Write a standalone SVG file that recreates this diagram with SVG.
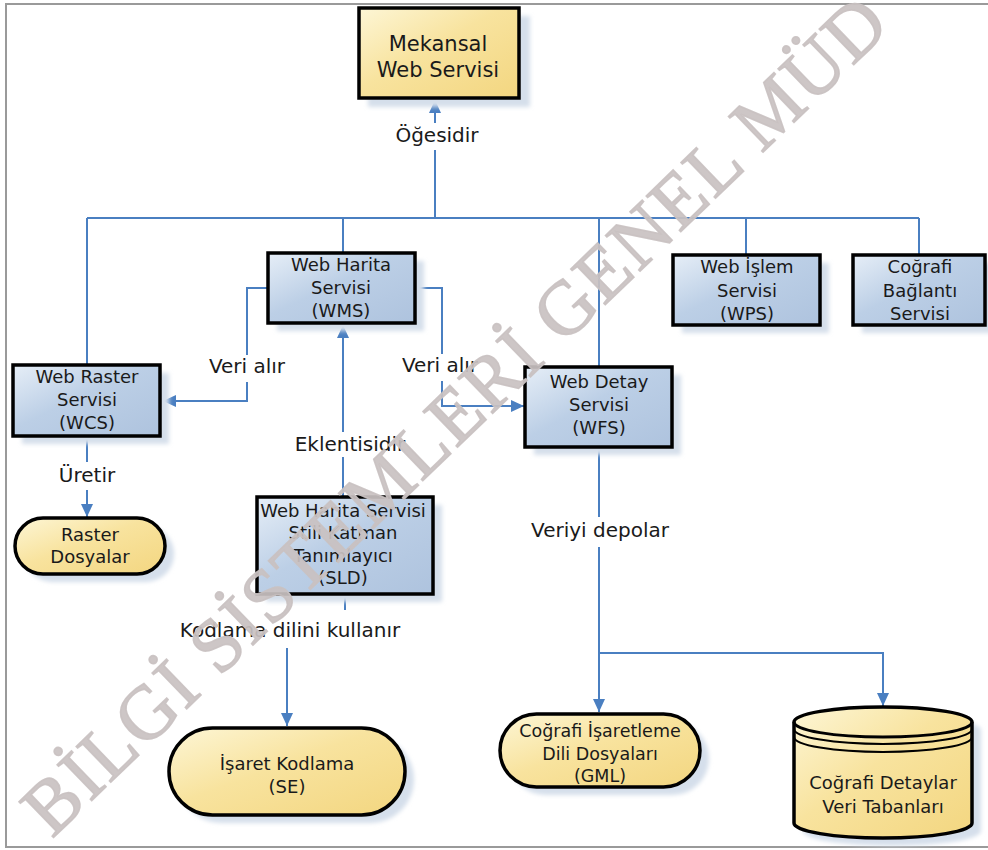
<svg xmlns="http://www.w3.org/2000/svg" width="988" height="850" viewBox="0 0 988 850">
<defs>
<linearGradient id="gb" x1="0" y1="0" x2="1" y2="1">
<stop offset="0" stop-color="#e6eef7"/><stop offset="0.45" stop-color="#bccfe6"/><stop offset="1" stop-color="#aec3de"/>
</linearGradient>
<linearGradient id="gy" x1="0" y1="0" x2="1" y2="1">
<stop offset="0" stop-color="#fdf6d6"/><stop offset="0.45" stop-color="#f8e39e"/><stop offset="1" stop-color="#f3d680"/>
</linearGradient>
<filter id="blur" x="-10%" y="-10%" width="120%" height="120%"><feGaussianBlur stdDeviation="2"/></filter>
<marker id="ah" markerWidth="14" markerHeight="14" refX="13" refY="7" orient="auto" markerUnits="userSpaceOnUse">
<path d="M0,1 L13,7 L0,13 Z" fill="#4a7fc1"/>
</marker>
</defs>
<style>
.box{fill:url(#gb);stroke:#000;stroke-width:3.5}
.ybox{fill:url(#gy);stroke:#000;stroke-width:3.5}
.sh{fill:#d5dfeb;filter:url(#blur)}
.t{font-family:"DejaVu Sans",Verdana,sans-serif;font-size:18px;fill:#1a1a1a;text-anchor:middle}
.big{font-size:21px}
.lbl{font-family:"DejaVu Sans",Verdana,sans-serif;font-size:20px;fill:#1a1a1a;text-anchor:middle}
.c{fill:none;stroke:#4a7fc1;stroke-width:2}
.lb{fill:#fff}
.wm{font-family:"Liberation Serif","Times New Roman",serif;font-size:76px;letter-spacing:1.8px;fill:#c9c1c1;stroke:#c9c1c1;stroke-width:1.6;fill-opacity:0.92;stroke-opacity:0.92}
</style>
<rect x="0" y="0" width="988" height="850" fill="#fff"/>
<rect x="6" y="4" width="992" height="843" fill="none" stroke="#9a9a9a" stroke-width="2"/>

<g id="connectors">
<path class="c" d="M435,218 V100" marker-end="url(#ah)"/>
<path class="c" d="M87,218 H919"/>
<path class="c" d="M87,218 V365"/>
<path class="c" d="M343,218 V253"/>
<path class="c" d="M599,218 V367"/>
<path class="c" d="M746,218 V255"/>
<path class="c" d="M919,218 V255"/>
<path class="c" d="M268,288 H247 V401 H163" marker-end="url(#ah)"/>
<path class="c" d="M415,288 H442 V406 H524" marker-end="url(#ah)"/>
<path class="c" d="M343,497 V325" marker-end="url(#ah)"/>
<path class="c" d="M345,594 V630 H287 V726" marker-end="url(#ah)"/>
<path class="c" d="M87,436 V517" marker-end="url(#ah)"/>
<path class="c" d="M599,447 V712" marker-end="url(#ah)"/>
<path class="c" d="M599,653 H883 V706" marker-end="url(#ah)"/>
<rect class="lb" x="393" y="123" width="88" height="27"/>
<text class="lbl" x="437" y="142">Öğesidir</text>
<rect class="lb" x="205" y="355" width="84" height="27"/>
<text class="lbl" x="247" y="373">Veri alır</text>
<rect class="lb" x="398" y="354" width="84" height="27"/>
<text class="lbl" x="440" y="372">Veri alır</text>
<rect class="lb" x="290" y="432" width="122" height="25"/>
<text class="lbl" x="350" y="451">Eklentisidir</text>
<rect class="lb" x="172" y="610" width="236" height="38"/>
<text class="lbl" x="290" y="637">Kodlama dilini kullanır</text>
<rect class="lb" x="56" y="462" width="62" height="28"/>
<text class="lbl" x="87" y="482">Üretir</text>
<rect class="lb" x="526" y="517" width="148" height="30"/>
<text class="lbl" x="600" y="537">Veriyi depolar</text>
</g>

<g id="mekansal">
<rect class="sh" x="368" y="16" width="162" height="91"/>
<rect class="ybox" x="359" y="8" width="160" height="90"/>
<text class="t big"><tspan x="438" y="51">Mekansal</tspan><tspan x="438" y="77">Web Servisi</tspan></text>
</g>

<g id="wms">
<rect class="sh" x="277" y="261" width="147" height="70"/>
<rect class="box" x="268" y="253" width="147" height="70"/>
<text class="t"><tspan x="341" y="271">Web Harita</tspan><tspan x="341" y="294">Servisi</tspan><tspan x="341" y="317">(WMS)</tspan></text>
</g>

<g id="wps">
<rect class="sh" x="682" y="263" width="147" height="70"/>
<rect class="box" x="673" y="255" width="147" height="70"/>
<text class="t"><tspan x="747" y="273">Web İşlem</tspan><tspan x="747" y="297">Servisi</tspan><tspan x="747" y="320">(WPS)</tspan></text>
</g>

<g id="cbs">
<rect class="sh" x="862" y="263" width="132" height="70"/>
<rect class="box" x="853" y="255" width="132" height="70"/>
<text class="t"><tspan x="920" y="273">Coğrafi</tspan><tspan x="920" y="297">Bağlantı</tspan><tspan x="920" y="320">Servisi</tspan></text>
</g>

<g id="wcs">
<rect class="sh" x="22" y="373" width="147" height="71"/>
<rect class="box" x="13" y="365" width="147" height="71"/>
<text class="t"><tspan x="87" y="383">Web Raster</tspan><tspan x="87" y="406">Servisi</tspan><tspan x="87" y="429">(WCS)</tspan></text>
</g>

<g id="wfs">
<rect class="sh" x="534" y="375" width="147" height="80"/>
<rect class="box" x="525" y="367" width="147" height="80"/>
<text class="t"><tspan x="599" y="388">Web Detay</tspan><tspan x="599" y="411">Servisi</tspan><tspan x="599" y="434">(WFS)</tspan></text>
</g>

<g id="sld">
<rect class="sh" x="266" y="505" width="176" height="97"/>
<rect class="box" x="257" y="497" width="176" height="97"/>
<text class="t"><tspan x="343" y="517">Web Harita Servisi</tspan><tspan x="343" y="539">Stili Katman</tspan><tspan x="343" y="562">Tanımlayıcı</tspan><tspan x="343" y="584">(SLD)</tspan></text>
</g>

<g id="raster">
<rect class="sh" x="24" y="526" width="150" height="56" rx="28"/>
<rect class="ybox" x="15" y="518" width="150" height="56" rx="28"/>
<text class="t"><tspan x="90" y="541">Raster</tspan><tspan x="90" y="563">Dosyalar</tspan></text>
</g>

<g id="se">
<rect class="sh" x="178" y="736" width="236" height="87" rx="43.5"/>
<rect class="ybox" x="169" y="728" width="236" height="87" rx="43.5"/>
<text class="t"><tspan x="287" y="770">İşaret Kodlama</tspan><tspan x="287" y="793">(SE)</tspan></text>
</g>

<g id="gml">
<rect class="sh" x="509" y="722" width="200" height="73" rx="36.5"/>
<rect class="ybox" x="500" y="714" width="200" height="73" rx="36.5"/>
<text class="t" style="font-size:17.5px"><tspan x="600" y="737">Coğrafi İşaretleme</tspan><tspan x="600" y="760">Dili Dosyaları</tspan><tspan x="600" y="782">(GML)</tspan></text>
</g>

<g id="db">
<path class="sh" d="M803,730 A89,15 0 0 1 981,730 V831 A89,15 0 0 1 803,831 Z"/>
<path class="ybox" d="M794,722 A89,15 0 0 1 972,722 V823 A89,15 0 0 1 794,823 Z"/>
<path d="M794,722 A89,15 0 0 0 972,722" fill="none" stroke="#000" stroke-width="3"/>
<path d="M794,729 A89,15 0 0 0 972,729" fill="none" stroke="#000" stroke-width="2"/>
<path d="M794,737 A89,15 0 0 0 972,737" fill="none" stroke="#000" stroke-width="2"/>
<text class="t"><tspan x="883" y="789">Coğrafi Detaylar</tspan><tspan x="883" y="813">Veri Tabanları</tspan></text>
</g>

<text class="wm" x="52" y="839" transform="rotate(-44 52 839)">BİLGİ SİSTEMLERİ GENEL MÜD</text>
</svg>
